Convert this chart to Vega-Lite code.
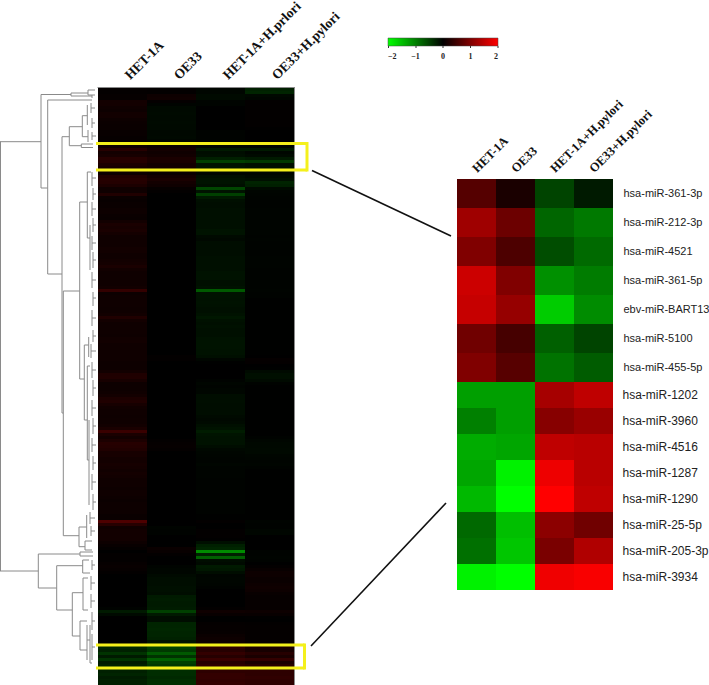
{"$schema":"https://vega.github.io/schema/vega-lite/v6.json","width":709,"height":685,"padding":0,"autosize":"none","background":"white","config":{"view":{"stroke":null}},
"datasets":{
"main":[
{"r":0,"a":0.03,"b":0.02,"c":-0.05,"d":-0.25},{"r":1,"a":0.03,"b":0.02,"c":-0.05,"d":-0.28},{"r":2,"a":0.05,"b":0.1,"c":-0.08,"d":-0.06},{"r":3,"a":0.05,"b":0.12,"c":-0.08,"d":-0.04},{"r":4,"a":0.15,"b":0.03,"c":-0.03,"d":0.02},{"r":5,"a":0.15,"b":-0.03,"c":-0.03,"d":0.02},{"r":6,"a":0.12,"b":-0.07,"c":0,"d":0.02},{"r":7,"a":0.1,"b":-0.07,"c":0,"d":0.02},{"r":8,"a":0.14,"b":-0.08,"c":0,"d":0.02},{"r":9,"a":0.14,"b":-0.07,"c":0,"d":0.02},{"r":10,"a":0.1,"b":-0.07,"c":0,"d":0.02},{"r":11,"a":0.09,"b":-0.08,"c":0,"d":0.02},{"r":12,"a":0.08,"b":-0.07,"c":0,"d":0.02},{"r":13,"a":0.08,"b":-0.07,"c":0,"d":0.01},{"r":14,"a":0.06,"b":-0.06,"c":-0.02,"d":0},{"r":15,"a":0.06,"b":-0.06,"c":-0.02,"d":0},{"r":16,"a":0.05,"b":-0.07,"c":-0.02,"d":0},{"r":17,"a":0.05,"b":-0.05,"c":-0.02,"d":0},{"r":18,"a":0.03,"b":-0.02,"c":0,"d":0},{"r":19,"a":0.12,"b":0.08,"c":-0.05,"d":-0.05},
{"r":20,"a":0.3,"b":0.15,"c":-0.2,"d":-0.2},{"r":21,"a":0.15,"b":0.12,"c":-0.1,"d":-0.05},{"r":22,"a":0.18,"b":0.14,"c":-0.12,"d":-0.08},{"r":23,"a":0.3,"b":0.2,"c":-0.25,"d":-0.2},{"r":24,"a":0.3,"b":0.2,"c":-0.5,"d":-0.45},{"r":25,"a":0.22,"b":0.15,"c":-0.15,"d":-0.12},{"r":26,"a":0.18,"b":0.15,"c":-0.15,"d":-0.12},{"r":27,"a":0.12,"b":0.1,"c":-0.08,"d":-0.06},{"r":28,"a":0.1,"b":0.08,"c":-0.05,"d":-0.05},{"r":29,"a":0.25,"b":0.15,"c":-0.12,"d":-0.08},
{"r":30,"a":0.3,"b":0.2,"c":-0.15,"d":-0.12},{"r":31,"a":0.28,"b":0.15,"c":-0.15,"d":-0.28},{"r":32,"a":0.22,"b":0.12,"c":-0.12,"d":-0.25},{"r":33,"a":0.12,"b":0.05,"c":-0.55,"d":-0.08},{"r":34,"a":0.12,"b":0.02,"c":-0.15,"d":-0.04},{"r":35,"a":0.25,"b":0,"c":-0.5,"d":-0.03},{"r":36,"a":0.08,"b":0,"c":-0.2,"d":-0.02},{"r":37,"a":0.06,"b":0,"c":-0.12,"d":-0.02},{"r":38,"a":0.08,"b":0,"c":-0.1,"d":-0.02},{"r":39,"a":0.08,"b":0,"c":-0.1,"d":-0.02},
{"r":40,"a":0.1,"b":0,"c":-0.12,"d":-0.03},{"r":41,"a":0.1,"b":0,"c":-0.12,"d":-0.03},{"r":42,"a":0.08,"b":0,"c":-0.12,"d":-0.03},{"r":43,"a":0.07,"b":0,"c":-0.12,"d":-0.03},{"r":44,"a":0.14,"b":0,"c":-0.12,"d":-0.03},{"r":45,"a":0.2,"b":0,"c":-0.12,"d":-0.03},{"r":46,"a":0.18,"b":0,"c":-0.12,"d":-0.03},{"r":47,"a":0.2,"b":0,"c":-0.15,"d":-0.03},{"r":48,"a":0.16,"b":0,"c":-0.15,"d":-0.03},{"r":49,"a":0.12,"b":0,"c":-0.08,"d":-0.02},
{"r":50,"a":0.12,"b":0,"c":-0.06,"d":-0.03},{"r":51,"a":0.12,"b":0,"c":-0.1,"d":-0.02},{"r":52,"a":0.12,"b":0,"c":-0.1,"d":-0.02},{"r":53,"a":0.14,"b":0,"c":-0.1,"d":-0.02},{"r":54,"a":0.14,"b":0,"c":-0.1,"d":-0.02},{"r":55,"a":0.12,"b":0,"c":-0.1,"d":-0.02},{"r":56,"a":0.12,"b":0,"c":-0.12,"d":-0.03},{"r":57,"a":0.14,"b":0,"c":-0.12,"d":-0.03},{"r":58,"a":0.16,"b":0,"c":-0.12,"d":-0.03},{"r":59,"a":0.2,"b":0,"c":-0.12,"d":-0.03},
{"r":60,"a":0.14,"b":0,"c":-0.12,"d":-0.02},{"r":61,"a":0.12,"b":0,"c":-0.14,"d":-0.02},{"r":62,"a":0.12,"b":0,"c":-0.14,"d":-0.02},{"r":63,"a":0.12,"b":0,"c":-0.14,"d":-0.02},{"r":64,"a":0.12,"b":0,"c":-0.12,"d":-0.02},{"r":65,"a":0.12,"b":0,"c":-0.12,"d":-0.02},{"r":66,"a":0.14,"b":0,"c":-0.14,"d":-0.02},{"r":67,"a":0.4,"b":0,"c":-0.7,"d":-0.03},{"r":68,"a":0.1,"b":0,"c":-0.14,"d":-0.02},{"r":69,"a":0.12,"b":0,"c":-0.14,"d":-0.02},
{"r":70,"a":0.12,"b":0,"c":-0.13,"d":-0.01},{"r":71,"a":0.12,"b":0,"c":-0.14,"d":-0.01},{"r":72,"a":0.12,"b":0,"c":-0.13,"d":-0.01},{"r":73,"a":0.11,"b":0,"c":-0.12,"d":-0.01},{"r":74,"a":0.12,"b":0,"c":-0.12,"d":-0.01},{"r":75,"a":0.14,"b":0,"c":-0.14,"d":-0.01},{"r":76,"a":0.25,"b":0,"c":-0.18,"d":-0.01},{"r":77,"a":0.15,"b":0,"c":-0.13,"d":-0.01},{"r":78,"a":0.12,"b":0,"c":-0.12,"d":-0.01},{"r":79,"a":0.12,"b":0,"c":-0.13,"d":-0.01},
{"r":80,"a":0.12,"b":0,"c":-0.12,"d":-0.01},{"r":81,"a":0.12,"b":0,"c":-0.12,"d":-0.01},{"r":82,"a":0.11,"b":0,"c":-0.12,"d":-0.01},{"r":83,"a":0.13,"b":0,"c":-0.14,"d":-0.01},{"r":84,"a":0.14,"b":0,"c":-0.15,"d":-0.01},{"r":85,"a":0.12,"b":0,"c":-0.15,"d":-0.01},{"r":86,"a":0.12,"b":0,"c":-0.15,"d":-0.01},{"r":87,"a":0.12,"b":0,"c":-0.14,"d":-0.01},{"r":88,"a":0.12,"b":0,"c":-0.14,"d":-0.01},{"r":89,"a":0.12,"b":0.02,"c":-0.12,"d":0},
{"r":90,"a":0.12,"b":0.02,"c":-0.05,"d":0.04},{"r":91,"a":0.1,"b":0,"c":-0.01,"d":0.03},{"r":92,"a":0.1,"b":0,"c":0,"d":0},{"r":93,"a":0.1,"b":0,"c":0,"d":-0.01},{"r":94,"a":0.14,"b":0,"c":0,"d":-0.08},{"r":95,"a":0.24,"b":0,"c":0,"d":-0.12},{"r":96,"a":0.25,"b":0,"c":0,"d":-0.12},{"r":97,"a":0.18,"b":0,"c":-0.02,"d":-0.08},{"r":98,"a":0.1,"b":0,"c":-0.05,"d":-0.02},{"r":99,"a":0.1,"b":0,"c":-0.03,"d":-0.01},
{"r":100,"a":0.1,"b":0,"c":-0.05,"d":-0.01},{"r":101,"a":0.12,"b":0,"c":-0.05,"d":-0.01},{"r":102,"a":0.15,"b":0,"c":-0.1,"d":-0.01},{"r":103,"a":0.22,"b":0,"c":-0.1,"d":-0.01},{"r":104,"a":0.25,"b":0,"c":-0.11,"d":-0.01},{"r":105,"a":0.18,"b":0,"c":-0.1,"d":-0.01},{"r":106,"a":0.13,"b":0,"c":-0.1,"d":-0.01},{"r":107,"a":0.12,"b":0,"c":-0.1,"d":-0.01},{"r":108,"a":0.12,"b":0,"c":-0.1,"d":-0.01},{"r":109,"a":0.11,"b":0,"c":-0.08,"d":-0.01},
{"r":110,"a":0.12,"b":0,"c":-0.06,"d":-0.01},{"r":111,"a":0.12,"b":0,"c":-0.08,"d":-0.01},{"r":112,"a":0.14,"b":0,"c":-0.12,"d":-0.01},{"r":113,"a":0.2,"b":0,"c":-0.15,"d":-0.01},{"r":114,"a":0.45,"b":0,"c":-0.22,"d":-0.01},{"r":115,"a":0.2,"b":0,"c":-0.16,"d":-0.01},{"r":116,"a":0.14,"b":0,"c":-0.14,"d":-0.02},{"r":117,"a":0.22,"b":0.02,"c":-0.14,"d":-0.05},{"r":118,"a":0.3,"b":0.04,"c":-0.14,"d":-0.06},{"r":119,"a":0.28,"b":0.05,"c":-0.1,"d":-0.06},
{"r":120,"a":0.25,"b":0.03,"c":-0.06,"d":-0.07},{"r":121,"a":0.18,"b":0,"c":-0.05,"d":-0.07},{"r":122,"a":0.18,"b":0,"c":-0.04,"d":-0.05},{"r":123,"a":0.15,"b":0,"c":-0.03,"d":-0.04},{"r":124,"a":0.15,"b":0,"c":-0.03,"d":-0.03},{"r":125,"a":0.17,"b":0,"c":-0.05,"d":-0.04},{"r":126,"a":0.16,"b":0,"c":-0.03,"d":-0.02},{"r":127,"a":0.13,"b":0,"c":-0.03,"d":-0.01},{"r":128,"a":0.16,"b":0,"c":-0.03,"d":-0.01},{"r":129,"a":0.14,"b":0,"c":-0.03,"d":-0.01},
{"r":130,"a":0.12,"b":0,"c":-0.02,"d":-0.01},{"r":131,"a":0.12,"b":0,"c":-0.02,"d":-0.01},{"r":132,"a":0.12,"b":0,"c":-0.02,"d":-0.01},{"r":133,"a":0.1,"b":0,"c":-0.02,"d":-0.01},{"r":134,"a":0.12,"b":0,"c":-0.02,"d":-0.01},{"r":135,"a":0.12,"b":0,"c":-0.02,"d":-0.01},{"r":136,"a":0.1,"b":0,"c":-0.02,"d":-0.01},{"r":137,"a":0.09,"b":0,"c":-0.02,"d":-0.01},{"r":138,"a":0.1,"b":0,"c":-0.02,"d":-0.01},{"r":139,"a":0.1,"b":0,"c":-0.02,"d":-0.01},
{"r":140,"a":0.1,"b":0,"c":-0.02,"d":-0.01},{"r":141,"a":0.1,"b":0,"c":-0.02,"d":-0.01},{"r":142,"a":0.08,"b":0,"c":-0.01,"d":-0.01},{"r":143,"a":0.08,"b":0,"c":-0.01,"d":-0.01},{"r":144,"a":0.6,"b":0,"c":0.02,"d":-0.03},{"r":145,"a":0.3,"b":0,"c":0,"d":-0.02},{"r":146,"a":0.12,"b":-0.03,"c":0,"d":-0.02},{"r":147,"a":0.14,"b":-0.02,"c":0.02,"d":-0.05},{"r":148,"a":0.14,"b":-0.02,"c":0.02,"d":-0.05},{"r":149,"a":0.14,"b":0,"c":0.02,"d":0},
{"r":150,"a":0.14,"b":0,"c":0.01,"d":0},{"r":151,"a":0.1,"b":0,"c":-0.12,"d":0},{"r":152,"a":0.06,"b":0,"c":-0.25,"d":0},{"r":153,"a":0.03,"b":0.08,"c":-0.3,"d":0},{"r":154,"a":0,"b":0.06,"c":-1.1,"d":-0.02},{"r":155,"a":0.02,"b":0.02,"c":-0.25,"d":-0.02},{"r":156,"a":0.02,"b":0,"c":-0.75,"d":-0.03},{"r":157,"a":0.02,"b":0,"c":-0.1,"d":-0.02},{"r":158,"a":0.05,"b":0,"c":-0.08,"d":0},{"r":159,"a":0.06,"b":-0.03,"c":-0.2,"d":0.02},
{"r":160,"a":0.05,"b":-0.05,"c":-0.18,"d":0.06},{"r":161,"a":0.02,"b":-0.05,"c":-0.1,"d":0.1},{"r":162,"a":0,"b":-0.08,"c":-0.04,"d":0.1},{"r":163,"a":0,"b":-0.1,"c":-0.05,"d":0.08},{"r":164,"a":0,"b":-0.1,"c":-0.05,"d":0.08},{"r":165,"a":0,"b":-0.1,"c":-0.04,"d":0.1},{"r":166,"a":0,"b":-0.12,"c":-0.02,"d":0.12},{"r":167,"a":0,"b":-0.12,"c":0,"d":0.1},{"r":168,"a":0,"b":-0.1,"c":0,"d":0.06},{"r":169,"a":0,"b":-0.2,"c":0,"d":0.05},
{"r":170,"a":0,"b":-0.22,"c":0,"d":0.05},{"r":171,"a":0,"b":-0.2,"c":0,"d":0.05},{"r":172,"a":0,"b":-0.2,"c":0,"d":0.05},{"r":173,"a":-0.02,"b":-0.22,"c":0.02,"d":0.05},{"r":174,"a":-0.2,"b":-0.5,"c":0.12,"d":0.1},{"r":175,"a":-0.08,"b":-0.2,"c":0.06,"d":0.06},{"r":176,"a":0,"b":-0.1,"c":0,"d":0.01},{"r":177,"a":0,"b":-0.1,"c":0,"d":0},{"r":178,"a":0,"b":-0.28,"c":0.03,"d":0.02},{"r":179,"a":0,"b":-0.28,"c":0.04,"d":0.03},
{"r":180,"a":0,"b":-0.3,"c":0.04,"d":0.03},{"r":181,"a":0,"b":-0.28,"c":0.05,"d":0.03},{"r":182,"a":0,"b":-0.28,"c":0.08,"d":0.03},{"r":183,"a":0,"b":-0.26,"c":0.1,"d":0.03},{"r":184,"a":0,"b":-0.15,"c":0.1,"d":0.05},{"r":185,"a":0,"b":-0.2,"c":0.1,"d":0.05},{"r":186,"a":-0.3,"b":-0.5,"c":0.35,"d":0.2},{"r":187,"a":-0.25,"b":-0.45,"c":0.3,"d":0.18},{"r":188,"a":-0.4,"b":-0.7,"c":0.4,"d":0.3},{"r":189,"a":-0.2,"b":-0.4,"c":0.3,"d":0.2},
{"r":190,"a":-0.4,"b":-0.75,"c":0.45,"d":0.4},{"r":191,"a":-0.2,"b":-0.5,"c":0.3,"d":0.2},{"r":192,"a":-0.25,"b":-0.45,"c":0.35,"d":0.3},{"r":193,"a":-0.25,"b":-0.45,"c":0.35,"d":0.3},{"r":194,"a":-0.25,"b":-0.35,"c":0.35,"d":0.35},{"r":195,"a":-0.28,"b":-0.35,"c":0.4,"d":0.35},{"r":196,"a":-0.22,"b":-0.32,"c":0.4,"d":0.38},{"r":197,"a":-0.25,"b":-0.35,"c":0.38,"d":0.35},{"r":198,"a":-0.25,"b":-0.36,"c":0.4,"d":0.35}
],
"top":[
{"m":"hsa-miR-361-3p","a":0.67,"b":0.2,"c":-0.53,"d":-0.2},{"m":"hsa-miR-212-3p","a":1.25,"b":0.85,"c":-0.8,"d":-0.95},{"m":"hsa-miR-4521","a":1.0,"b":0.6,"c":-0.6,"d":-0.83},{"m":"hsa-miR-361-5p","a":1.6,"b":1.0,"c":-1.13,"d":-0.97},{"m":"ebv-miR-BART13","a":1.55,"b":1.18,"c":-1.6,"d":-1.1},{"m":"hsa-miR-5100","a":0.88,"b":0.55,"c":-0.75,"d":-0.53},{"m":"hsa-miR-455-5p","a":1.0,"b":0.68,"c":-0.9,"d":-0.72}],
"bottom":[
{"m":"hsa-miR-1202","a":-1.25,"b":-1.25,"c":1.3,"d":1.5},{"m":"hsa-miR-3960","a":-1.0,"b":-1.25,"c":1.06,"d":1.2},{"m":"hsa-miR-4516","a":-1.35,"b":-1.3,"c":1.5,"d":1.45},{"m":"hsa-miR-1287","a":-1.3,"b":-1.9,"c":1.87,"d":1.45},{"m":"hsa-miR-1290","a":-1.45,"b":-2,"c":2,"d":1.5},{"m":"hsa-miR-25-5p","a":-0.82,"b":-1.5,"c":1.1,"d":0.88},{"m":"hsa-miR-205-3p","a":-0.88,"b":-1.55,"c":0.96,"d":1.38},{"m":"hsa-miR-3934","a":-1.9,"b":-2,"c":1.88,"d":1.95}],
"dend":[
{"x":0.5,"x2":0.5,"y":141.7,"y2":571},{"x":0,"x2":41,"y":141.7,"y2":141.7},{"x":0,"x2":38.3,"y":571,"y2":571},
{"x":41,"x2":41,"y":94.5,"y2":188},{"x":41,"x2":71,"y":94.5,"y2":94.5},{"x":71,"x2":71,"y":93,"y2":96},{"x":71,"x2":88,"y":93,"y2":93},{"x":71,"x2":92,"y":96,"y2":96},{"x":88,"x2":88,"y":90,"y2":95},{"x":88,"x2":95,"y":90,"y2":90},{"x":88,"x2":95,"y":95,"y2":95},{"x":92,"x2":92,"y":95,"y2":98},
{"x":41,"x2":47.7,"y":188,"y2":188},{"x":47.7,"x2":47.7,"y":100,"y2":274},{"x":47.7,"x2":92,"y":100,"y2":100},{"x":47.7,"x2":62,"y":274,"y2":274},{"x":62,"x2":62,"y":136.7,"y2":413},{"x":62,"x2":63.3,"y":413,"y2":413},{"x":62,"x2":69.3,"y":136.7,"y2":136.7},
{"x":69.3,"x2":69.3,"y":126.7,"y2":145.7},{"x":69.3,"x2":82.3,"y":126.7,"y2":126.7},{"x":82.3,"x2":82.3,"y":115.7,"y2":136.7},{"x":82.3,"x2":87.3,"y":115.7,"y2":115.7},{"x":82.3,"x2":88,"y":136.7,"y2":136.7},{"x":87.3,"x2":87.3,"y":105,"y2":125},{"x":88,"x2":88,"y":130,"y2":142},{"x":69.3,"x2":81.3,"y":145.7,"y2":145.7},{"x":81.3,"x2":81.3,"y":144,"y2":147.5},{"x":81.3,"x2":93,"y":144,"y2":144},{"x":81.3,"x2":93,"y":147.5,"y2":147.5},
{"x":63.3,"x2":63.3,"y":291,"y2":535.7},{"x":63.3,"x2":79.7,"y":291,"y2":291},{"x":63.3,"x2":79,"y":535.7,"y2":535.7},{"x":79.7,"x2":79.7,"y":202,"y2":379},{"x":79.7,"x2":87.3,"y":202,"y2":202},{"x":87.3,"x2":87.3,"y":172,"y2":238},{"x":87.3,"x2":91,"y":172,"y2":172},{"x":87.3,"x2":90,"y":238,"y2":238},{"x":90,"x2":90,"y":225,"y2":270},{"x":79.7,"x2":84.3,"y":379,"y2":379},{"x":84.3,"x2":84.3,"y":345,"y2":420},{"x":84.3,"x2":88.7,"y":345,"y2":345},{"x":88.7,"x2":88.7,"y":337,"y2":357},{"x":84.3,"x2":87.3,"y":420,"y2":420},{"x":87.3,"x2":87.3,"y":366,"y2":460},{"x":87.3,"x2":90,"y":366,"y2":366},{"x":87.3,"x2":89,"y":460,"y2":460},{"x":89,"x2":89,"y":420,"y2":505},
{"x":79,"x2":79,"y":527,"y2":546.7},{"x":79,"x2":86.7,"y":527,"y2":527},{"x":79,"x2":85,"y":546.7,"y2":546.7},{"x":86.7,"x2":86.7,"y":515,"y2":538},{"x":85,"x2":85,"y":541,"y2":550},{"x":85,"x2":92,"y":541,"y2":541},{"x":85,"x2":92,"y":550,"y2":550},
{"x":38.3,"x2":38.3,"y":554,"y2":588},{"x":38.3,"x2":80,"y":554,"y2":554},{"x":80,"x2":80,"y":552,"y2":556},{"x":80,"x2":93,"y":552,"y2":552},{"x":80,"x2":93,"y":556,"y2":556},{"x":38.3,"x2":56.7,"y":588,"y2":588},{"x":56.7,"x2":56.7,"y":565.7,"y2":610},{"x":56.7,"x2":82.7,"y":565.7,"y2":565.7},{"x":82.7,"x2":82.7,"y":560,"y2":573},{"x":82.7,"x2":89,"y":560,"y2":560},{"x":82.7,"x2":90,"y":573,"y2":573},{"x":56.7,"x2":72.3,"y":610,"y2":610},{"x":72.3,"x2":72.3,"y":592.7,"y2":636},{"x":72.3,"x2":83,"y":592.7,"y2":592.7},{"x":83,"x2":83,"y":578,"y2":610},{"x":83,"x2":88,"y":578,"y2":578},{"x":83,"x2":88,"y":610,"y2":610},{"x":72.3,"x2":80,"y":636,"y2":636},{"x":80,"x2":80,"y":621,"y2":650},{"x":80,"x2":87,"y":621,"y2":621},{"x":80,"x2":87,"y":650,"y2":650},{"x":87,"x2":87,"y":625,"y2":660},{"x":87,"x2":90,"y":640,"y2":640},{"x":90,"x2":90,"y":625,"y2":663},{"x":90,"x2":92,"y":663,"y2":663},
{"x":91,"x2":91,"y":103,"y2":113},{"x":91,"x2":95,"y":108,"y2":108},{"x":92,"x2":92,"y":118,"y2":128},{"x":92,"x2":95,"y":123,"y2":123},{"x":92,"x2":92,"y":132,"y2":140},{"x":92,"x2":96,"y":136,"y2":136},{"x":92,"x2":92,"y":172,"y2":186},{"x":92,"x2":96,"y":178,"y2":178},{"x":93,"x2":93,"y":188,"y2":200},{"x":93,"x2":96,"y":194,"y2":194},{"x":92,"x2":92,"y":202,"y2":216},{"x":92,"x2":96,"y":209,"y2":209},{"x":93,"x2":93,"y":218,"y2":232},{"x":93,"x2":96,"y":225,"y2":225},{"x":92,"x2":92,"y":236,"y2":250},{"x":92,"x2":96,"y":243,"y2":243},{"x":93,"x2":93,"y":252,"y2":268},{"x":93,"x2":96,"y":260,"y2":260},{"x":92,"x2":92,"y":272,"y2":288},{"x":92,"x2":96,"y":280,"y2":280},{"x":93,"x2":93,"y":292,"y2":306},{"x":93,"x2":96,"y":298,"y2":298},{"x":92,"x2":92,"y":310,"y2":326},{"x":92,"x2":96,"y":318,"y2":318},{"x":93,"x2":93,"y":330,"y2":342},{"x":93,"x2":96,"y":336,"y2":336},{"x":91,"x2":91,"y":344,"y2":358},{"x":91,"x2":96,"y":351,"y2":351},{"x":92,"x2":92,"y":362,"y2":378},{"x":92,"x2":96,"y":370,"y2":370},{"x":93,"x2":93,"y":380,"y2":396},{"x":93,"x2":96,"y":388,"y2":388},{"x":92,"x2":92,"y":400,"y2":416},{"x":92,"x2":96,"y":408,"y2":408},{"x":93,"x2":93,"y":418,"y2":434},{"x":93,"x2":96,"y":426,"y2":426},{"x":92,"x2":92,"y":438,"y2":452},{"x":92,"x2":96,"y":445,"y2":445},{"x":93,"x2":93,"y":456,"y2":470},{"x":93,"x2":96,"y":463,"y2":463},{"x":92,"x2":92,"y":474,"y2":490},{"x":92,"x2":96,"y":482,"y2":482},{"x":93,"x2":93,"y":494,"y2":510},{"x":93,"x2":96,"y":502,"y2":502},{"x":90,"x2":90,"y":512,"y2":524},{"x":90,"x2":95,"y":518,"y2":518},{"x":91,"x2":91,"y":526,"y2":536},{"x":91,"x2":95,"y":531,"y2":531},{"x":92,"x2":92,"y":560,"y2":570},{"x":92,"x2":95,"y":565,"y2":565},{"x":91,"x2":91,"y":576,"y2":590},{"x":91,"x2":95,"y":583,"y2":583},{"x":91,"x2":91,"y":594,"y2":608},{"x":91,"x2":95,"y":601,"y2":601},{"x":92,"x2":92,"y":612,"y2":630},{"x":92,"x2":95,"y":621,"y2":621},{"x":92,"x2":92,"y":634,"y2":660},{"x":92,"x2":95,"y":647,"y2":647},
{"x":294.5,"x2":294.5,"y":88,"y2":685},{"x":97.5,"x2":295,"y":87.5,"y2":87.5}],
"boxes":[
{"x":96,"x2":307,"y":143.5,"y2":143.5},{"x":96,"x2":307,"y":170,"y2":170},{"x":307,"x2":307,"y":142,"y2":171.5},
{"x":96,"x2":304.5,"y":645,"y2":645},{"x":96,"x2":304.5,"y":668,"y2":668},{"x":304.5,"x2":304.5,"y":643.5,"y2":669.5}],
"links":[{"x":312,"x2":451,"y":170.5,"y2":236},{"x":311,"x2":446,"y":646,"y2":503}],
"ticks":[{"x":388.5,"x2":388.5,"y":46,"y2":48},{"x":416,"x2":416,"y":46,"y2":48},{"x":443,"x2":443,"y":46,"y2":48},{"x":470.5,"x2":470.5,"y":46,"y2":48},{"x":498,"x2":498,"y":46,"y2":48}]
},
"resolve":{"scale":{"x":"independent","y":"independent","color":"independent"},"axis":{"x":"independent","y":"independent"}},
"layer":[
{"data":{"name":"main"},"transform":[{"fold":["a","b","c","d"],"as":["k","v"]}],"mark":{"type":"rect","strokeWidth":0},
"encoding":{"x":{"field":"k","type":"nominal","title":null,"scale":{"range":[98,294],"paddingInner":0,"paddingOuter":0},"axis":{"orient":"top","offset":-88,"domain":false,"ticks":false,"labelAngle":-45,"labelAlign":"left","labelBaseline":"middle","labelPadding":11,"labelOffset":5,"labelFont":"Liberation Serif","labelFontWeight":"bold","labelFontSize":13.5,"labelColor":"#111","labelOverlap":false,"labelLimit":0,"labelExpr":"{'a':'HET-1A','b':'OE33','c':'HET-1A+H.prlori','d':'OE33+H.pylori'}[datum.value]"}},
"y":{"field":"r","type":"ordinal","axis":null,"scale":{"range":[88,685],"paddingInner":0,"paddingOuter":0}},
"color":{"field":"v","type":"quantitative","scale":{"domain":[-2,0,2],"range":["#00ff00","#000000","#ff0000"],"interpolate":"rgb","clamp":true},"legend":{"orient":"none","legendX":388,"legendY":38,"direction":"horizontal","gradientLength":110,"gradientThickness":8,"gradientStrokeColor":"#444","gradientStrokeWidth":0.5,"title":null,"values":[-2,-1,0,1,2],"labelFont":"Liberation Serif","labelFontWeight":"bold","labelFontSize":8,"labelOffset":7,"labelColor":"#222"}}}},
{"data":{"name":"top"},"transform":[{"fold":["a","b","c","d"],"as":["k","v"]}],"mark":{"type":"rect","strokeWidth":0},
"encoding":{"x":{"field":"k","type":"nominal","title":null,"scale":{"range":[457,613],"paddingInner":0,"paddingOuter":0},"axis":{"orient":"top","offset":-179,"domain":false,"ticks":false,"labelAngle":-45,"labelAlign":"left","labelBaseline":"middle","labelPadding":9,"labelOffset":-2,"labelFont":"Liberation Serif","labelFontWeight":"bold","labelFontSize":12.5,"labelColor":"#111","labelOverlap":false,"labelLimit":0,"labelExpr":"{'a':'HET-1A','b':'OE33','c':'HET-1A+H.pylori','d':'OE33+H.pylori'}[datum.value]"}},
"y":{"field":"m","type":"nominal","sort":null,"title":null,"scale":{"range":[179,382],"paddingInner":0,"paddingOuter":0},"axis":{"orient":"right","offset":-95,"domain":false,"ticks":false,"labelPadding":9,"labelFont":"Liberation Sans","labelFontSize":11,"labelColor":"#222","labelOverlap":false,"labelLimit":0}},
"color":{"field":"v","type":"quantitative","scale":{"domain":[-2,0,2],"range":["#00ff00","#000000","#ff0000"],"interpolate":"rgb"},"legend":null}}},
{"data":{"name":"bottom"},"transform":[{"fold":["a","b","c","d"],"as":["k","v"]}],"mark":{"type":"rect","strokeWidth":0},
"encoding":{"x":{"field":"k","type":"nominal","axis":null,"scale":{"range":[457,613],"paddingInner":0,"paddingOuter":0}},
"y":{"field":"m","type":"nominal","sort":null,"title":null,"scale":{"range":[382,590],"paddingInner":0,"paddingOuter":0},"axis":{"orient":"right","offset":-95,"domain":false,"ticks":false,"labelPadding":8,"labelFont":"Liberation Sans","labelFontSize":12,"labelColor":"#222","labelOverlap":false,"labelLimit":0}},
"color":{"field":"v","type":"quantitative","scale":{"domain":[-2,0,2],"range":["#00ff00","#000000","#ff0000"],"interpolate":"rgb"},"legend":null}}},
{"data":{"name":"dend"},"mark":{"type":"rule","stroke":"#8a8a8a","strokeWidth":1},
"encoding":{"x":{"field":"x","type":"quantitative","axis":null,"scale":{"domain":[0,709],"range":[0,709],"nice":false,"zero":false}},"x2":{"field":"x2"},"y":{"field":"y","type":"quantitative","axis":null,"scale":{"domain":[0,685],"range":[0,685],"nice":false,"zero":false}},"y2":{"field":"y2"}}},
{"data":{"name":"boxes"},"mark":{"type":"rule","stroke":"#f4f01c","strokeWidth":3},
"encoding":{"x":{"field":"x","type":"quantitative","axis":null,"scale":{"domain":[0,709],"range":[0,709],"nice":false,"zero":false}},"x2":{"field":"x2"},"y":{"field":"y","type":"quantitative","axis":null,"scale":{"domain":[0,685],"range":[0,685],"nice":false,"zero":false}},"y2":{"field":"y2"}}},
{"data":{"name":"links"},"mark":{"type":"rule","stroke":"#111","strokeWidth":1.6},
"encoding":{"x":{"field":"x","type":"quantitative","axis":null,"scale":{"domain":[0,709],"range":[0,709],"nice":false,"zero":false}},"x2":{"field":"x2"},"y":{"field":"y","type":"quantitative","axis":null,"scale":{"domain":[0,685],"range":[0,685],"nice":false,"zero":false}},"y2":{"field":"y2"}}},
{"data":{"name":"ticks"},"mark":{"type":"rule","stroke":"#333","strokeWidth":1},
"encoding":{"x":{"field":"x","type":"quantitative","axis":null,"scale":{"domain":[0,709],"range":[0,709],"nice":false,"zero":false}},"x2":{"field":"x2"},"y":{"field":"y","type":"quantitative","axis":null,"scale":{"domain":[0,685],"range":[0,685],"nice":false,"zero":false}},"y2":{"field":"y2"}}}
]}
